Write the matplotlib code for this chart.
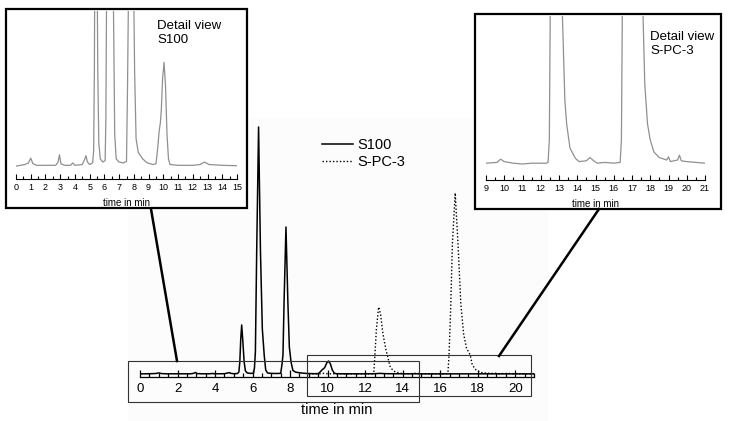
import matplotlib
matplotlib.use("Agg")
import matplotlib.pyplot as plt
from matplotlib.patches import Rectangle
from matplotlib.lines import Line2D
from matplotlib.ticker import MultipleLocator

plt.rcParams['font.family'] = ['Liberation Sans', 'DejaVu Sans']

# S100 trace (retention time in min, signal in arbitrary units)
s100_t = [0, 0.6, 0.85, 1.0, 1.15, 1.4, 2.7, 2.85, 2.95, 3.05, 3.3, 3.7, 3.85, 4.0,
          4.5, 4.65, 4.75, 4.85, 5.0, 5.2, 5.27, 5.32, 5.37, 5.42, 5.48, 5.55, 5.62,
          5.72, 5.9, 6.05, 6.1, 6.15, 6.22, 6.32, 6.42, 6.52, 6.62, 6.7, 6.8, 7.0,
          7.3, 7.5, 7.57, 7.62, 7.68, 7.78, 7.88, 7.96, 8.05, 8.15, 8.3, 8.6, 8.9,
          9.3, 9.5, 9.6, 9.72, 9.8, 9.86, 9.95, 10.05, 10.15, 10.25, 10.35, 10.45,
          11.0, 12.0, 12.5, 12.8, 13.1, 14.0, 15.0, 21.0]
s100_y = [0.1, 0.3, 0.5, 1.1, 0.4, 0.2, 0.2, 0.6, 1.5, 0.4, 0.2, 0.2, 0.5, 0.2,
          0.3, 0.9, 1.4, 0.6, 0.3, 0.5, 2, 12, 35, 49, 33, 12, 3,
          1, 0.6, 0.8, 6, 22, 123, 247, 123, 45, 19, 4, 1, 0.6,
          0.5, 0.7, 10, 19, 73, 147, 73, 27, 12, 3.5, 1.8, 1.0, 0.5,
          0.3, 0.4, 2, 4.5, 5.5, 7, 11, 13, 10, 4, 1, 0.3,
          0.2, 0.2, 0.3, 0.6, 0.3, 0.2, 0.15, 0.15]

# S-PC-3 trace
spc3_t = [9.0, 9.6, 9.8, 10.0, 10.5, 11.0, 11.5, 12.3, 12.4, 12.47, 12.52, 12.6,
          12.72, 12.82, 12.95, 13.1, 13.22, 13.32, 13.42, 13.6, 13.9, 14.1, 14.5,
          14.7, 14.9, 15.1, 15.5, 16.0, 16.35, 16.42, 16.47, 16.55, 16.65, 16.8,
          16.95, 17.1, 17.25, 17.4, 17.6, 17.7, 17.85, 18.0, 18.2, 18.5, 18.9,
          19.0, 19.1, 19.3, 19.5, 19.6, 19.7, 20.0, 20.5, 21.0]
spc3_y = [0.1, 0.2, 0.6, 0.3, 0.1, 0.0, 0.1, 0.1, 0.2, 3, 19, 45,
          67, 60, 40, 25, 16, 8, 5, 2, 0.7, 0.3, 0.4,
          0.8, 0.4, 0.1, 0.2, 0.1, 0.2, 3, 19, 60, 130, 181,
          130, 70, 40, 26, 19, 10, 5, 3, 1.5, 0.8, 0.5,
          0.9, 0.3, 0.4, 0.5, 1.1, 0.4, 0.3, 0.2, 0.1]

W, H = 730, 421
fig = plt.figure(figsize=(W / 100, H / 100), dpi=100)


def box(x0, y0, x1, y1):
    # pixel box (top-left origin) -> figure fraction rect
    return [x0 / W, 1 - y1 / H, (x1 - x0) / W, (y1 - y0) / H]


def fx(x):
    return x / W


def fy(y):
    return 1 - y / H


def style_axis(ax, fs, major, minor, lw, length, pad):
    for s in ['top', 'left', 'right']:
        ax.spines[s].set_visible(False)
    ax.spines['bottom'].set_linewidth(lw)
    ax.set_yticks([])
    ax.patch.set_alpha(0)
    ax.xaxis.set_major_locator(MultipleLocator(major))
    ax.xaxis.set_minor_locator(MultipleLocator(minor))
    ax.tick_params(axis='x', which='major', direction='in', length=length,
                   width=lw, labelsize=fs, pad=pad)
    ax.tick_params(axis='x', which='minor', direction='in', length=length * 0.6,
                   width=lw)


# faint background behind the main chromatogram
fig.patches.append(Rectangle((fx(128), fy(421)), (548 - 128) / W, (421 - 118) / H,
                             transform=fig.transFigure, facecolor='#fcfcfc',
                             edgecolor='none', zorder=-1))

# main chromatogram
ax = fig.add_axes(box(140, 120, 534, 377))
ax.plot(s100_t, s100_y, color='black', lw=1.1, label='S100')
ax.plot(spc3_t, spc3_y, color='black', lw=1.0, ls=(0, (1, 1.5)), label='S-PC-3')
ax.set_xlim(0, 21)
ax.set_ylim(-3, 254)
style_axis(ax, 9.5, 2, 0.5, 0.9, 5, 4)
ax.set_xlabel('time in min', fontsize=10.5, labelpad=6)
ax.legend(loc='upper left', bbox_to_anchor=(fx(322), fy(138)),
          bbox_transform=fig.transFigure, frameon=False, fontsize=10.5,
          handlelength=2.1, handletextpad=0.35, labelspacing=0.2,
          borderpad=0, borderaxespad=0)

# inset frames
fig.patches.append(Rectangle((fx(6), fy(208)), (247 - 6) / W, (208 - 9) / H,
                             transform=fig.transFigure, facecolor='white',
                             edgecolor='black', lw=1.6, zorder=1))
fig.patches.append(Rectangle((fx(475), fy(209)), (721 - 475) / W, (209 - 14) / H,
                             transform=fig.transFigure, facecolor='white',
                             edgecolor='black', lw=1.6, zorder=1))

# zoom rectangles on the main chart
fig.patches.append(Rectangle((fx(128), fy(402)), (419 - 128) / W, (402 - 361) / H,
                             transform=fig.transFigure, facecolor='none',
                             edgecolor='#333333', lw=0.8, zorder=3))
fig.patches.append(Rectangle((fx(307), fy(396)), (531 - 307) / W, (396 - 355) / H,
                             transform=fig.transFigure, facecolor='none',
                             edgecolor='#333333', lw=0.8, zorder=3))

# connector lines
fig.lines.append(Line2D([fx(151), fx(177)], [fy(209), fy(361)],
                        transform=fig.transFigure, color='black', lw=1.8, zorder=4))
fig.lines.append(Line2D([fx(599), fx(499)], [fy(209), fy(356)],
                        transform=fig.transFigure, color='black', lw=1.8, zorder=4))

# left inset: S100 detail
axl = fig.add_axes(box(16, 11, 237, 179), zorder=2)
axl.plot(s100_t, s100_y, color='#909090', lw=0.9)
axl.set_xlim(0, 15)
axl.set_ylim(-1.5, 19.375)
style_axis(axl, 6.5, 1, 0.5, 0.8, 3.5, 3)
axl.set_xlabel('time in min', fontsize=7, labelpad=4)
fig.text(fx(157), fy(20), 'Detail view\nS100', fontsize=9.5, va='top',
         ha='left', linespacing=1.2, zorder=5)

# right inset: S-PC-3 detail
axr = fig.add_axes(box(486, 16, 705, 180), zorder=2)
axr.plot(spc3_t, spc3_y, color='#909090', lw=0.9)
axr.set_xlim(9, 21)
axr.set_ylim(-2.0, 18.5)
style_axis(axr, 6.5, 1, 0.5, 0.8, 3.5, 3)
axr.set_xlabel('time in min', fontsize=7, labelpad=4)
fig.text(fx(650), fy(31), 'Detail view\nS-PC-3', fontsize=9.5, va='top',
         ha='left', linespacing=1.2, zorder=5)

fig.savefig('out.png', dpi=100)
